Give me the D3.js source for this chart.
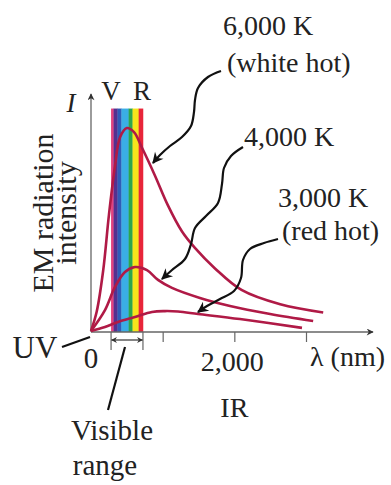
<!DOCTYPE html>
<html>
<head>
<meta charset="utf-8">
<script src="https://cdn.jsdelivr.net/npm/d3@7"></script>
<style>
  html, body { margin: 0; padding: 0; background: #fff; }
  svg { display: block; }
  text { font-family: "Liberation Serif", "DejaVu Serif", serif; fill: #222; }
</style>
</head>
<body>
<svg id="chart" width="391" height="485"></svg>
<script>
// ---- data (wavelength in nm, intensity in arbitrary units) ----
const wl6000 = [0, 80, 170, 250, 335, 405, 500, 600, 710, 890, 1070, 1270, 1450, 1730, 2100, 2640, 3240];
const in6000 = [0.5, 10, 30, 57, 81, 95, 99.5, 97.5, 90, 76.5, 62, 49, 41, 31, 20.5, 13.5, 9.5];

const wl4000 = [0, 195, 335, 474, 614, 781, 935, 1130, 1520, 1940, 2500, 3100];
const in4000 = [0.5, 10.7, 22, 29.3, 31.7, 30.2, 25.4, 21.5, 16.6, 12.7, 8.8, 5.4];

const wl3000 = [0, 195, 377, 614, 851, 1033, 1214, 1493, 2079, 2944];
const in3000 = [0.5, 2.4, 4.9, 7.3, 9.8, 10.2, 10, 8.8, 6.3, 2];

// visible band stripes (edges in nm, as drawn)
const bandEdges = [280, 315, 370, 425, 525, 580, 665, 725];
const bandColors = ['#e2427f', '#55308f', '#2f5cb8', '#3aaee6', '#2ca64f', '#f6e51c', '#e8253a'];
const bandTop = 109;

const xTicks = [1000, 2000, 3000];

const svg = d3.select('#chart');
const x = d3.scaleLinear().domain([0, 3000]).range([91, 306]);
const y = d3.scaleLinear().domain([0, 100]).range([332, 127]);

const curveColor = '#b01a46';
const axisColor = '#666';

// arrow markers
const defs = svg.append('defs');
function marker(id, color, w, h) {
  defs.append('marker')
    .attr('id', id)
    .attr('viewBox', '0 0 10 10')
    .attr('refX', 9).attr('refY', 5)
    .attr('markerWidth', w).attr('markerHeight', h)
    .attr('markerUnits', 'userSpaceOnUse')
    .attr('orient', 'auto')
    .append('path')
    .attr('d', 'M0,0 L10,5 L0,10 L3,5 Z')
    .attr('fill', color);
}
marker('ax', '#333', 9, 7);
marker('wv', '#111', 13, 11);
marker('br', '#333', 6, 6);

// visible band
const stripes = bandColors.map((c, i) => ({ c, a: bandEdges[i], b: bandEdges[i + 1] }));
svg.append('g').selectAll('rect').data(stripes).join('rect')
  .attr('x', d => x(d.a))
  .attr('width', d => x(d.b) - x(d.a) + 0.3)
  .attr('y', y(bandTop))
  .attr('height', y(0) - y(bandTop))
  .attr('fill', d => d.c);

// axes
svg.append('line')
  .attr('x1', x(0)).attr('y1', y(0))
  .attr('x2', 373).attr('y2', y(0))
  .attr('stroke', axisColor).attr('stroke-width', 1.3)
  .attr('marker-end', 'url(#ax)');
svg.append('line')
  .attr('x1', x(0)).attr('y1', y(0))
  .attr('x2', x(0)).attr('y2', 94)
  .attr('stroke', axisColor).attr('stroke-width', 1.3)
  .attr('marker-end', 'url(#ax)');

const xAxis = d3.axisBottom(x).tickValues(xTicks).tickSize(10).tickFormat('');
const gx = svg.append('g').attr('transform', `translate(0,${y(0)})`).call(xAxis);
gx.select('.domain').remove();
gx.selectAll('.tick line').attr('stroke', axisColor).attr('stroke-width', 1.2);

// curves
const line = d3.line()
  .x(d => x(d[0]))
  .y(d => y(d[1]))
  .curve(d3.curveCatmullRom.alpha(0.5));

[[wl6000, in6000], [wl4000, in4000], [wl3000, in3000]].forEach(([w, v]) => {
  svg.append('path')
    .datum(d3.zip(w, v))
    .attr('d', line)
    .attr('fill', 'none')
    .attr('stroke', curveColor)
    .attr('stroke-width', 2.6);
});

// visible range bracket
const bx0 = x(bandEdges[0]), bx1 = x(bandEdges[bandEdges.length - 1]);
[bx0, bx1].forEach(bx => {
  svg.append('line')
    .attr('x1', bx).attr('x2', bx).attr('y1', y(0)).attr('y2', y(0) + 18)
    .attr('stroke', axisColor).attr('stroke-width', 1.2);
});
const midB = (bx0 + bx1) / 2;
[[midB, bx0 + 0.5], [midB, bx1 - 0.5]].forEach(([a, b]) => {
  svg.append('line')
    .attr('x1', a).attr('x2', b).attr('y1', y(0) + 8).attr('y2', y(0) + 8)
    .attr('stroke', '#333').attr('stroke-width', 1.2)
    .attr('marker-end', 'url(#br)');
});

// pointer lines
svg.append('line').attr('x1', 62).attr('y1', 347).attr('x2', 90).attr('y2', 337)
  .attr('stroke', '#111').attr('stroke-width', 2.2);
svg.append('line').attr('x1', 125).attr('y1', 347).attr('x2', 108).attr('y2', 410)
  .attr('stroke', '#111').attr('stroke-width', 2.2);

// wavy arrows
const wavy = d3.line().curve(d3.curveCatmullRom.alpha(0.5));
const arrows = [
  [[221, 71], [208, 77], [198, 88], [195, 100], [194, 112], [191, 126], [182, 137], [170, 146], [160, 155], [153, 163]],
  [[243, 147], [231, 156], [224, 168], [222, 184], [218, 203], [206, 216], [195, 228], [191, 244], [185, 259], [172, 270], [162, 279]],
  [[278, 239], [264, 243], [250, 249], [243, 260], [241, 278], [234, 291], [220, 299], [207, 306], [198, 312]]
];
arrows.forEach(pts => {
  svg.append('path')
    .attr('d', wavy(pts))
    .attr('fill', 'none')
    .attr('stroke', '#111')
    .attr('stroke-width', 2.2)
    .attr('marker-end', 'url(#wv)');
});

// labels
function label(txt, px, py, size, anchor, extra) {
  const t = svg.append('text')
    .attr('x', px).attr('y', py)
    .attr('font-size', size)
    .attr('text-anchor', anchor || 'start')
    .text(txt);
  if (extra) extra(t);
  return t;
}
label('6,000 K', 223, 35, 28);
label('(white hot)', 227, 72, 28);
label('4,000 K', 244, 146, 28);
label('3,000 K', 278, 207, 28);
label('(red hot)', 282, 240, 28);

label('I', 71, 112, 27, 'middle', t => t.attr('font-style', 'italic'));
label('V', 111, 100, 27, 'middle');
label('R', 142, 100, 27, 'middle');

label('UV', 35, 358, 31, 'middle');
label('0', x(0), 368, 29, 'middle');
label('2,000', x(2000) - 2, 371, 28, 'middle');
label('IR', x(2000), 417, 28, 'middle');
label('λ (nm)', 310, 366, 28, 'start');
label('Visible', 112, 440, 29, 'middle');
label('range', 105, 475, 29, 'middle');

svg.append('text')
  .attr('transform', 'translate(53,213) rotate(-90)')
  .attr('text-anchor', 'middle')
  .attr('font-size', 30)
  .text('EM radiation');
svg.append('text')
  .attr('transform', 'translate(76,213) rotate(-90)')
  .attr('text-anchor', 'middle')
  .attr('font-size', 30)
  .text('intensity');
</script>
</body>
</html>
